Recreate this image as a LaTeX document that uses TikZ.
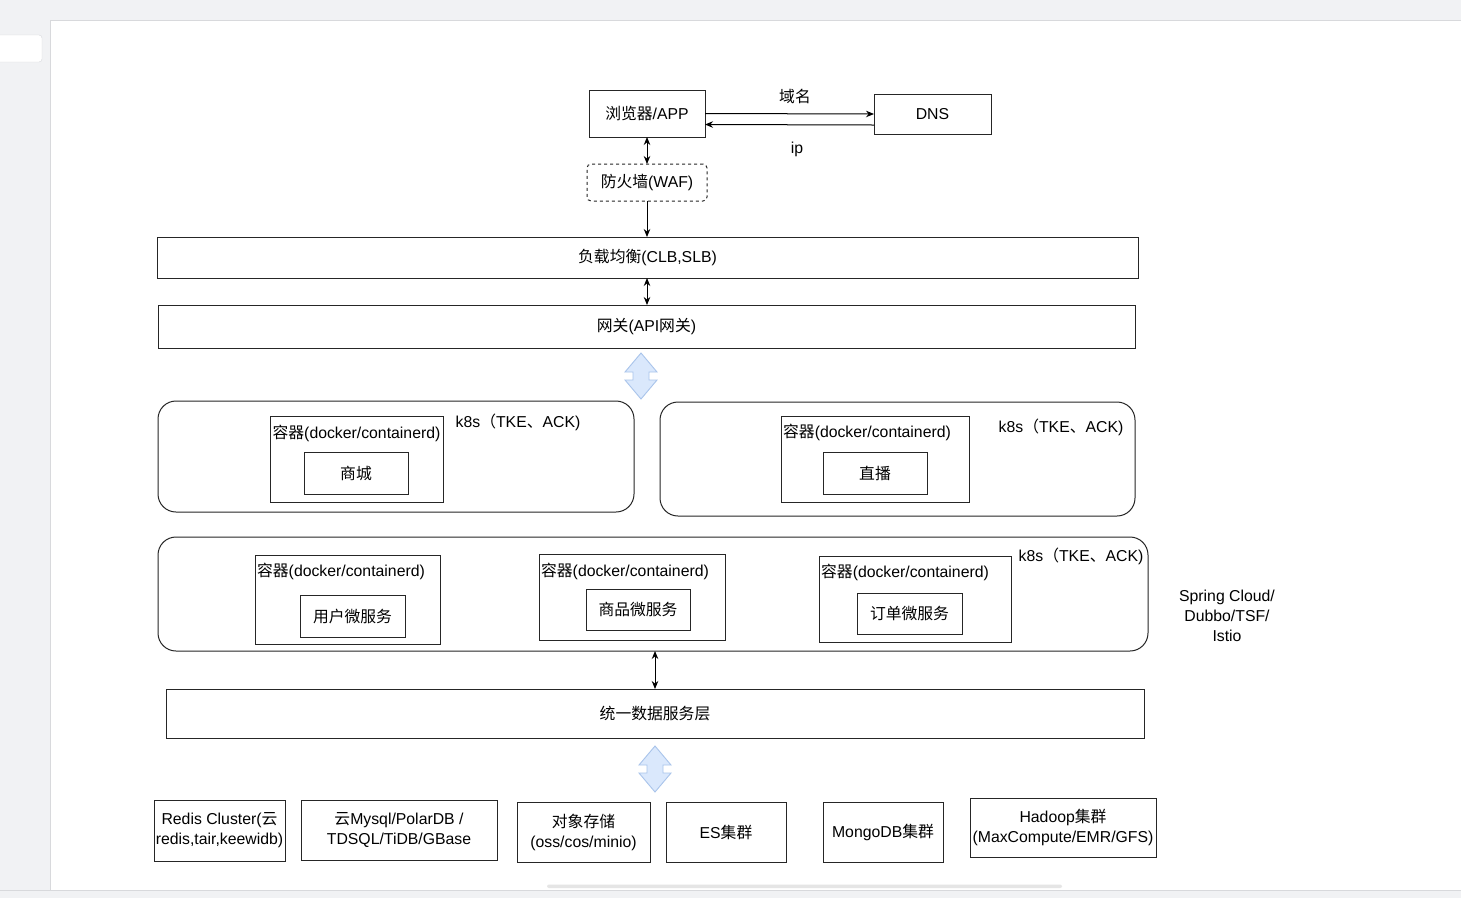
\documentclass[tikz,border=0pt]{standalone}
\usepackage{fontspec}
\setmainfont{Liberation Sans}
\newfontfamily\cjk{Noto Sans CJK SC}
\usetikzlibrary{arrows.meta}
\newcommand\zh[1]{{\cjk #1}}
\definecolor{chrome}{HTML}{F1F2F4}
\definecolor{chromeline}{HTML}{D8D9DC}
\definecolor{bluefill}{HTML}{DAE8FC}
\definecolor{bluedraw}{HTML}{A9C4EB}
\begin{document}
\begin{tikzpicture}[x=1pt,y=-1pt,
  font=\fontsize{15.8}{20}\selectfont,
  box/.style={draw=black!85, line width=1pt, inner sep=0pt, outer sep=0pt, align=center},
  cluster/.style={box, rounded corners=18pt},
  txt/.style={inner sep=0pt, align=center},
  arr/.style={line width=1pt, -{Stealth[length=8pt,width=6.5pt]}},
  darr/.style={line width=1pt, {Stealth[length=8pt,width=6.5pt]}-{Stealth[length=8pt,width=6.5pt]}},
  bigarrow/.style={fill=bluefill, draw=bluedraw, line width=0.9pt, line join=miter}
]
\useasboundingbox (0,0) rectangle (1461,898);
\fill[white] (0,0) rectangle (1461,898);
% editor chrome
\fill[chrome] (0,0) rectangle (1461,20);
\draw[chromeline] (0,20) -- (1461,20);
\fill[chrome] (0,20) rectangle (50,898);
\draw[chromeline] (50,20) -- (50,890);
\fill[chrome] (0,890) rectangle (1461,898);
\draw[chromeline] (0,890) -- (1461,890);
\fill[white, draw=chromeline, rounded corners=3pt] (-5,35) rectangle (42,62);
\fill[gray!20, rounded corners=2pt] (547,884.5) rectangle (1062,888);

% top
\node[box, minimum width=116pt, minimum height=47pt] (br) at (647,113.5) {\zh{浏览器}/APP};
\node[box, minimum width=117pt, minimum height=40pt] (dns) at (932.5,114) {DNS};
\node[box, dashed, rounded corners=4pt, minimum width=120pt, minimum height=37pt] (waf) at (647,182.5) {\zh{防火墙}(WAF)};
\node[txt] (lblname) at (795,96) {\zh{域名}};
\node[txt] (lblip) at (797,149) {ip};

\node[box, minimum width=981pt, minimum height=41pt] (lb) at (647.5,257.5) {\zh{负载均衡}(CLB,SLB)};
\node[box, minimum width=977pt, minimum height=43pt] (gw) at (646.5,326.5) {\zh{网关}(API\zh{网关})};

% cluster 1
\node[cluster, minimum width=476pt, minimum height=111pt] (c1) at (396,456.5) {};
\node[box, minimum width=173pt, minimum height=86pt] (ct1) at (356.5,459) {};
\node[txt] (ct1l) at (356.5,433) {\zh{容器}(docker/containerd)};
\node[box, minimum width=104pt, minimum height=42pt] (shop) at (356,473) {\zh{商城}};
\node[txt] (k1) at (518,422) {k8s\zh{（}TKE\zh{、}ACK)};

% cluster 2
\node[cluster, minimum width=475pt, minimum height=114pt] (c2) at (897.5,459) {};
\node[box, minimum width=188pt, minimum height=86pt] (ct2) at (875,459) {};
\node[txt] (ct2l) at (867,432) {\zh{容器}(docker/containerd)};
\node[box, minimum width=104pt, minimum height=42pt] (live) at (875,473) {\zh{直播}};
\node[txt] (k2) at (1061,427) {k8s\zh{（}TKE\zh{、}ACK)};

% cluster 3
\node[cluster, minimum width=990pt, minimum height=114pt] (c3) at (653,594) {};
\node[box, minimum width=185pt, minimum height=89pt] (cta) at (347.5,599.5) {};
\node[txt] (ctal) at (341,571) {\zh{容器}(docker/containerd)};
\node[box, minimum width=105pt, minimum height=42pt] (user) at (352.5,616) {\zh{用户微服务}};
\node[box, minimum width=186pt, minimum height=86pt] (ctb) at (632,597) {};
\node[txt] (ctbl) at (625,571) {\zh{容器}(docker/containerd)};
\node[box, minimum width=104pt, minimum height=41pt] (goods) at (638,609.5) {\zh{商品微服务}};
\node[box, minimum width=192pt, minimum height=86pt] (ctc) at (915,599) {};
\node[txt] (ctcl) at (905,572) {\zh{容器}(docker/containerd)};
\node[box, minimum width=105pt, minimum height=41pt] (order) at (909.5,613.5) {\zh{订单微服务}};
\node[txt] (k3) at (1081,556) {k8s\zh{（}TKE\zh{、}ACK)};

\node[txt] (spring) at (1227,616) {Spring Cloud/\\Dubbo/TSF/\\Istio};

% data layer
\node[box, minimum width=978pt, minimum height=49pt] (data) at (655,713.5) {\zh{统一数据服务层}};

% storage
\node[box, minimum width=131pt, minimum height=61pt] (redis) at (219.5,830.5) {Redis Cluster(\zh{云}\\redis,tair,keewidb)};
\node[box, minimum width=196pt, minimum height=60pt] (mysql) at (399,830) {\zh{云}Mysql/PolarDB /\\TDSQL/TiDB/GBase};
\node[box, minimum width=133pt, minimum height=60pt] (oss) at (583.5,832) {\zh{对象存储}\\(oss/cos/minio)};
\node[box, minimum width=120pt, minimum height=60pt] (es) at (726,832) {ES\zh{集群}};
\node[box, minimum width=120pt, minimum height=60pt] (mongo) at (883,832) {MongoDB\zh{集群}};
\node[box, minimum width=186pt, minimum height=59pt] (hadoop) at (1063,827.5) {Hadoop\zh{集群}\\(MaxCompute/EMR/GFS)};

% connectors
\draw[arr] (br.east) -- (dns.west);
\draw[arr] ([yshift=-11pt]dns.west) -- ([yshift=-11pt]br.east);
\draw[darr] (br.south) -- (waf.north);
\draw[arr] (waf.south) -- (waf.south |- lb.north);
\draw[darr] (lb.south -| waf.south) -- (gw.north -| waf.south);
\draw[darr] (c3.south -| data.north) -- (data.north);

% big blue double arrows
\coordinate (ba1) at (641,353);
\coordinate (ba2) at (655,746);
\foreach \c in {ba1,ba2}{
  \draw[bigarrow] (\c) -- ++(16,19) -- ++(-8,0) -- ++(0,8) -- ++(8,0) -- ++(-16,19)
    -- ++(-16,-19) -- ++(8,0) -- ++(0,-8) -- ++(-8,0) -- cycle;
}
\end{tikzpicture}
\end{document}
